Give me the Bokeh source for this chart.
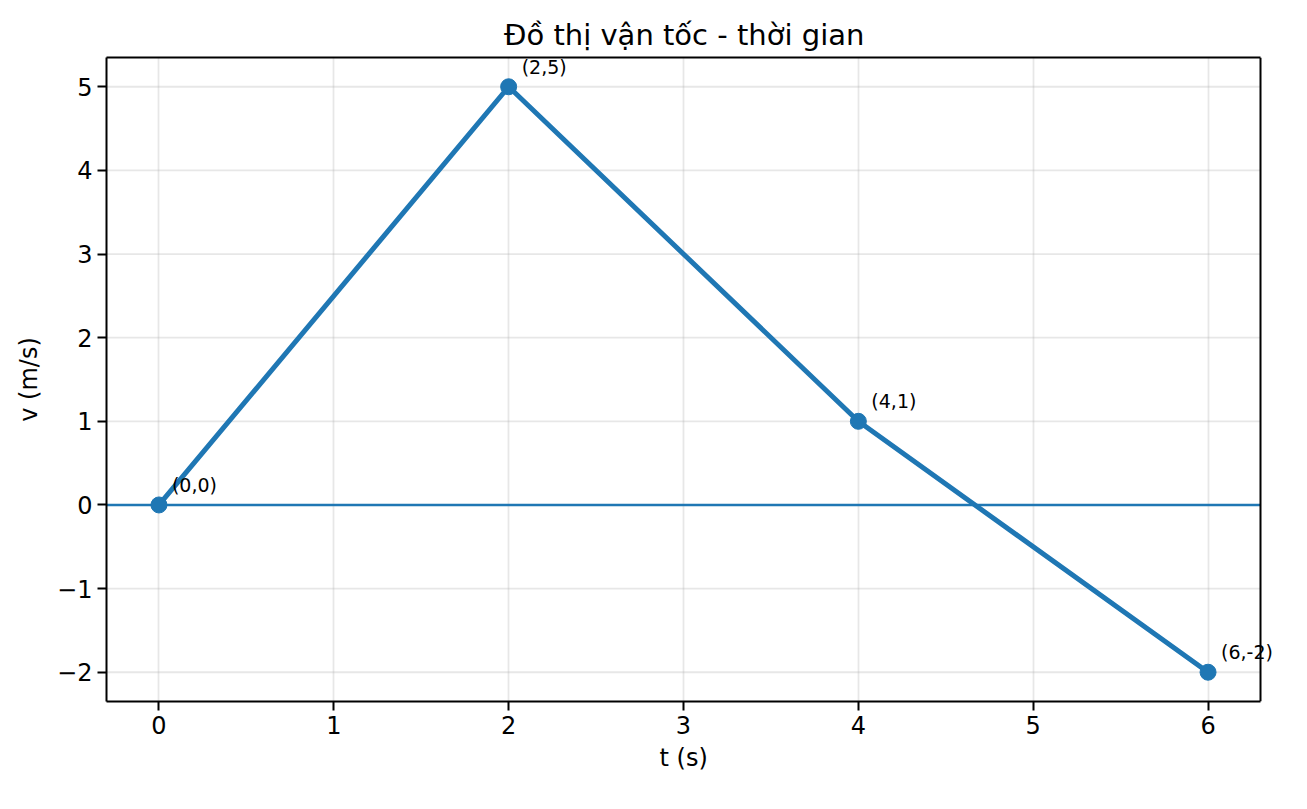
from bokeh.plotting import figure
from bokeh.models import (ColumnDataSource, LabelSet, Span, FixedTicker, Range1d,
                          LinearAxis, Title)
from bokeh.core.properties import value
from bokeh.embed import file_html
from bokeh.resources import INLINE

# data
t_vals = [0, 2, 4, 6]
v_vals = [0, 5, 1, -2]
point_labels = ["(0,0)", "(2,5)", "(4,1)", "(6,-2)"]
x_ticks = [0, 1, 2, 3, 4, 5, 6]
y_ticks = [-2, -1, 0, 1, 2, 3, 4, 5]
zero_level = [0]

FONT = "DejaVu Sans"
BLUE = "#1f77b4"

# visible axes box (data units) and its pixel layout
X_LO, X_HI = -0.3, 6.3
Y_LO, Y_HI = -2.35, 5.35
W, H = 1291, 793
LEFT, TOP, BOTTOM = 106, 57, 92
BOX_RIGHT = 1260          # pixel where the drawn box ends
# the frame runs to the canvas edge so that the last annotation is not clipped
frame_w = W - LEFT
x_end = X_LO + (X_HI - X_LO) * frame_w / (BOX_RIGHT - LEFT)
box_center = (BOX_RIGHT - LEFT) / 2   # from frame left
TITLE_W, XLABEL_W = 359, 48           # measured text widths, used to centre on the box

p = figure(
    width=W,
    height=H,
    x_range=Range1d(X_LO, x_end),
    y_range=Range1d(Y_LO, Y_HI),
    toolbar_location=None,
    output_backend="svg",
    title="Đồ thị vận tốc - thời gian",
    y_axis_label="v (m/s)",
    min_border_left=LEFT,
    min_border_right=0,
    min_border_top=TOP,
    min_border_bottom=BOTTOM,
)
p.title.align = "left"
p.title.offset = box_center - TITLE_W / 2
p.title.text_font = FONT
p.title.text_font_size = "29px"
p.title.text_font_style = "normal"
p.title.text_color = "black"
p.title.standoff = 12
p.outline_line_color = None

for ax in (p.xaxis, p.yaxis):
    ax.axis_line_color = "black"
    ax.axis_line_width = 2
    ax.major_tick_line_width = 2
    ax.major_tick_line_color = "black"
    ax.major_tick_out = 9
    ax.major_tick_in = 0
    ax.minor_tick_line_color = None
    ax.major_label_text_font = FONT
    ax.major_label_text_font_size = "24px"
    ax.major_label_text_color = "black"
    ax.axis_label_text_font = FONT
    ax.axis_label_text_font_size = "24px"
    ax.axis_label_text_font_style = "normal"
    ax.axis_label_text_color = "black"
    ax.major_label_standoff = 5

p.xaxis.ticker = FixedTicker(ticks=x_ticks)
p.xaxis.bounds = (X_LO, X_HI)
p.yaxis.ticker = FixedTicker(ticks=y_ticks)
p.yaxis.major_label_overrides = {v: str(v).replace("-", "\u2212") for v in y_ticks}
p.yaxis.axis_label_standoff = 11

# x axis label as a title below the axis, centred on the drawn box
p.add_layout(Title(text="t (s)", align="left", offset=box_center - XLABEL_W / 2,
                   vertical_align="top", standoff=14,
                   text_font=FONT, text_font_size="24px", text_font_style="normal",
                   text_color="black"), "below")

# top and right edges of the box
top_edge = LinearAxis(bounds=(X_LO, X_HI), ticker=FixedTicker(ticks=[]),
                      axis_line_color="black", axis_line_width=2,
                      major_tick_out=0, major_tick_in=0, major_label_standoff=0,
                      minor_tick_line_color=None)
p.add_layout(top_edge, "above")
p.add_layout(Span(location=X_HI, dimension="height", line_color="black", line_width=2))

# grid: vertical lines from the ticker, horizontal ones limited to the box
p.xgrid.ticker = FixedTicker(ticks=x_ticks)
p.xgrid.grid_line_color = "#b0b0b0"
p.xgrid.grid_line_alpha = 0.3
p.xgrid.grid_line_width = 1.8
p.ygrid.visible = False
p.segment(x0=X_LO, x1=X_HI, y0=y_ticks, y1=y_ticks,
          line_color="#b0b0b0", line_alpha=0.3, line_width=1.8)

# horizontal zero line
p.segment(x0=X_LO, x1=X_HI, y0=zero_level, y1=zero_level,
          line_color=BLUE, line_width=2.5)

source = ColumnDataSource(data={"t": t_vals, "v": v_vals, "lbl": point_labels})
p.line(x="t", y="v", source=source, line_color=BLUE, line_width=5)
p.scatter(x="t", y="v", source=source, size=16, marker="circle",
          fill_color=BLUE, line_color=BLUE)

labels = LabelSet(x="t", y="v", text="lbl", source=source,
                  x_offset=13, y_offset=13,
                  text_font=value(FONT), text_font_size=value("19px"),
                  text_color="black", text_baseline="alphabetic")
p.add_layout(labels)

open("out.html", "w").write(file_html(p, INLINE))
